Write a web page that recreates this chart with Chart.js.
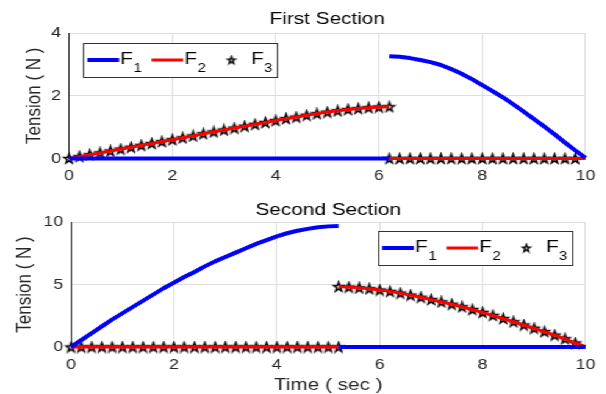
<!DOCTYPE html>
<html>
<head>
<meta charset="utf-8">
<script src="https://cdn.jsdelivr.net/npm/chart.js@4.4.1/dist/chart.umd.min.js"></script>
<style>
  html, body { margin: 0; padding: 0; background: #fff; overflow: hidden; }
  /* the original figure is stretched sideways, so the whole drawing gets the same stretch */
  #stretch { position: absolute; left: 0; top: 0; width: 497px; height: 394px; transform: scaleX(1.22); transform-origin: 0 0; }
  canvas { display: block; }
</style>
</head>
<body>
<div id="stretch">
  <canvas id="chartTop" width="497" height="197"></canvas>
  <canvas id="chartBottom" width="497" height="197"></canvas>
</div>
<script>
// ---------- DATA ----------
const seriesNames = ["F1", "F2", "F3"];
const xTicks = [0, 2, 4, 6, 8, 10];
const topYTicks = [0, 2, 4];
const bottomYTicks = [0, 5, 10];

// First Section: two time segments, split at t = 6.2
const topTimeA = [0, 0.2, 0.4, 0.6, 0.8, 1, 1.2, 1.4, 1.6, 1.8, 2, 2.2, 2.4, 2.6, 2.8, 3, 3.2, 3.4, 3.6, 3.8, 4, 4.2, 4.4, 4.6, 4.8, 5, 5.2, 5.4, 5.6, 5.8, 6, 6.2];
const topTimeB = [6.2, 6.4, 6.6, 6.8, 7, 7.2, 7.4, 7.6, 7.8, 8, 8.2, 8.4, 8.6, 8.8, 9, 9.2, 9.4, 9.6, 9.8, 10];
const topF1A = [0, 0, 0, 0, 0, 0, 0, 0, 0, 0, 0, 0, 0, 0, 0, 0, 0, 0, 0, 0, 0, 0, 0, 0, 0, 0, 0, 0, 0, 0, 0, 0];
const topF1B = [3.26, 3.24, 3.2, 3.14, 3.07, 2.98, 2.85, 2.7, 2.53, 2.34, 2.15, 1.95, 1.73, 1.5, 1.26, 1.02, 0.77, 0.51, 0.26, 0.02];
const topF2A = [0, 0.06, 0.12, 0.18, 0.24, 0.3, 0.36, 0.42, 0.48, 0.54, 0.6, 0.66, 0.72, 0.79, 0.85, 0.91, 0.97, 1.03, 1.09, 1.15, 1.21, 1.27, 1.32, 1.38, 1.43, 1.48, 1.52, 1.56, 1.59, 1.62, 1.64, 1.65];
const topF2B = [0, 0, 0, 0, 0, 0, 0, 0, 0, 0, 0, 0, 0, 0, 0, 0, 0, 0, 0, 0];
const topF3A = [0, 0.06, 0.12, 0.18, 0.24, 0.3, 0.36, 0.42, 0.48, 0.54, 0.6, 0.66, 0.72, 0.79, 0.85, 0.91, 0.97, 1.03, 1.09, 1.15, 1.21, 1.27, 1.32, 1.38, 1.43, 1.48, 1.52, 1.56, 1.59, 1.62, 1.64, 1.65];
const topF3B = [0, 0, 0, 0, 0, 0, 0, 0, 0, 0, 0, 0, 0, 0, 0, 0, 0, 0, 0];

// Second Section: split at t = 5.2
const bottomTimeA = [0, 0.2, 0.4, 0.6, 0.8, 1, 1.2, 1.4, 1.6, 1.8, 2, 2.2, 2.4, 2.6, 2.8, 3, 3.2, 3.4, 3.6, 3.8, 4, 4.2, 4.4, 4.6, 4.8, 5, 5.2];
const bottomTimeB = [5.2, 5.4, 5.6, 5.8, 6, 6.2, 6.4, 6.6, 6.8, 7, 7.2, 7.4, 7.6, 7.8, 8, 8.2, 8.4, 8.6, 8.8, 9, 9.2, 9.4, 9.6, 9.8, 10];
const bottomF1A = [0, 0.55, 1.1, 1.65, 2.2, 2.7, 3.2, 3.7, 4.2, 4.7, 5.15, 5.6, 6, 6.45, 6.85, 7.2, 7.55, 7.9, 8.25, 8.55, 8.85, 9.1, 9.3, 9.45, 9.58, 9.65, 9.68];
const bottomF1B = [0, 0, 0, 0, 0, 0, 0, 0, 0, 0, 0, 0, 0, 0, 0, 0, 0, 0, 0, 0, 0, 0, 0, 0, 0];
const bottomF2A = [0, 0, 0, 0, 0, 0, 0, 0, 0, 0, 0, 0, 0, 0, 0, 0, 0, 0, 0, 0, 0, 0, 0, 0, 0, 0, 0];
const bottomF2B = [4.83, 4.79, 4.73, 4.66, 4.56, 4.45, 4.31, 4.15, 3.98, 3.8, 3.61, 3.42, 3.22, 3, 2.77, 2.53, 2.28, 2.02, 1.76, 1.5, 1.23, 0.95, 0.66, 0.32, 0.03];
const bottomF3A = [0, 0, 0, 0, 0, 0, 0, 0, 0, 0, 0, 0, 0, 0, 0, 0, 0, 0, 0, 0, 0, 0, 0, 0, 0, 0, 0];
const bottomF3B = [4.83, 4.79, 4.73, 4.66, 4.56, 4.45, 4.31, 4.15, 3.98, 3.8, 3.61, 3.42, 3.22, 3, 2.77, 2.53, 2.28, 2.02, 1.76, 1.5, 1.23, 0.95, 0.66, 0.32];

// ---------- helpers ----------
const FONT = '"Liberation Sans", Arial, sans-serif';
const axisColor = "#262626";
const gridColor = "#dedede";

// join two segments with a null point so the line breaks at the jump
function segmentPoints(timesA, valsA, timesB, valsB) {
  const pts = valsA.map((v, i) => ({ x: timesA[i], y: v }));
  pts.push({ x: timesA[timesA.length - 1], y: null });
  valsB.forEach((v, i) => pts.push({ x: timesB[i], y: v }));
  return pts;
}

// MATLAB-like pentagram marker, outline only
function makeStar(R, lw) {
  const size = Math.ceil(R * 2 + 3);
  const c = document.createElement("canvas");
  c.width = size;
  c.height = size;
  const g = c.getContext("2d");
  g.translate(size / 2, size / 2 + R * 0.095);
  g.scale(0.85, 1);
  g.beginPath();
  for (let k = 0; k < 10; k++) {
    const r = k % 2 === 0 ? R : R * 0.4;
    const a = -Math.PI / 2 + (k * Math.PI) / 5;
    g.lineTo(r * Math.cos(a), r * Math.sin(a));
  }
  g.closePath();
  g.setTransform(1, 0, 0, 1, 0, 0);
  g.lineWidth = lw;
  g.strokeStyle = "#000";
  g.stroke();
  return c;
}
const starImg = makeStar(4.9, 1.5);
const legendStarImg = makeStar(3.8, 1.4);

// boxed legend with subscripts, drawn inside the plot area
const boxedLegend = {
  id: "boxedLegend",
  afterDraw(chart, args, opts) {
    const ctx = chart.ctx;
    const area = chart.chartArea;
    const sets = chart.data.datasets;
    const sample = 26, pad = 3.5, gap = 8;
    ctx.save();
    const parts = sets.map((ds) => {
      ctx.font = "17px " + FONT;
      const wMain = ctx.measureText(ds.label[0]).width;
      ctx.font = "12px " + FONT;
      const wSub = ctx.measureText(ds.label.slice(1)).width;
      const after = ds.showLine ? 1 : 3;
      return { ds, wMain, wSub, after, w: sample + after + wMain + 0.5 + wSub };
    });
    let width = pad * 2 + gap * (parts.length - 1);
    parts.forEach((p) => (width += p.w));
    const height = 34;
    const left = opts.side === "right" ? area.right - 11.5 - width : area.left + 11.5;
    const top = area.top + opts.offsetTop;

    ctx.fillStyle = "#fff";
    ctx.fillRect(left, top, width, height);
    ctx.strokeStyle = "#333";
    ctx.lineWidth = 1;
    ctx.strokeRect(Math.round(left) + 0.5, Math.round(top) + 0.5, Math.round(width), height);

    let x = left + pad;
    const midY = top + 17;
    const base = top + 21;
    parts.forEach((p) => {
      if (p.ds.showLine) {
        ctx.strokeStyle = p.ds.borderColor;
        ctx.lineWidth = p.ds.borderWidth;
        ctx.beginPath();
        ctx.moveTo(x, midY);
        ctx.lineTo(x + sample, midY);
        ctx.stroke();
      } else {
        ctx.drawImage(legendStarImg, x + sample / 2 - legendStarImg.width / 2, midY - legendStarImg.height / 2);
      }
      let tx = x + sample + p.after;
      ctx.fillStyle = "#000";
      ctx.textBaseline = "alphabetic";
      ctx.textAlign = "left";
      ctx.font = "17px " + FONT;
      ctx.fillText(p.ds.label[0], tx, base);
      tx += p.wMain + 0.5;
      ctx.font = "12px " + FONT;
      ctx.fillText(p.ds.label.slice(1), tx, base + 8.4);
      x += p.w + gap;
    });
    ctx.restore();
  },
};

function makePanel(canvasId, cfg) {
  const datasets = [
    {
      label: seriesNames[0],
      data: segmentPoints(cfg.timeA, cfg.f1A, cfg.timeB, cfg.f1B),
      showLine: true,
      borderColor: "#0000ff",
      borderWidth: 4,
      pointRadius: 0,
      borderJoinStyle: "round",
      clip: false,
    },
    {
      label: seriesNames[1],
      data: segmentPoints(cfg.timeA, cfg.f2A, cfg.timeB, cfg.f2B),
      showLine: true,
      borderColor: "#ff0000",
      borderWidth: 3,
      pointRadius: 0,
      borderJoinStyle: "round",
      clip: false,
    },
    {
      label: seriesNames[2],
      data: segmentPoints(cfg.timeA, cfg.f3A, cfg.timeB, cfg.f3B),
      showLine: false,
      pointStyle: starImg,
      pointRadius: 5,
      clip: false,
    },
  ];

  return new Chart(document.getElementById(canvasId), {
    type: "scatter",
    data: { datasets: datasets },
    options: {
      responsive: false,
      animation: false,
      events: [],
      layout: { padding: { left: 0, right: 14, top: 0, bottom: 0 } },
      plugins: {
        legend: { display: false },
        tooltip: { enabled: false },
        title: {
          display: true,
          fullSize: false, // centre over the axes, like MATLAB
          text: cfg.title,
          color: "#000",
          font: { family: FONT, size: 17, weight: "normal" },
          padding: cfg.titlePadding,
        },
        boxedLegend: { side: cfg.legendSide, offsetTop: cfg.legendTop },
      },
      scales: {
        x: {
          type: "linear",
          min: xTicks[0],
          max: xTicks[xTicks.length - 1],
          afterBuildTicks: (s) => { s.ticks = xTicks.map((v) => ({ value: v })); },
          afterFit: (s) => { s.height = cfg.xAxisHeight; },
          grid: { color: gridColor, lineWidth: 1, drawTicks: false },
          border: { display: true, color: axisColor, width: 1 },
          ticks: { color: axisColor, font: { family: FONT, size: 14.5 }, padding: 9, maxRotation: 0 },
          title: {
            display: !!cfg.xTitle,
            text: cfg.xTitle || "",
            color: axisColor,
            font: { family: FONT, size: 17, lineHeight: 1 },
            padding: { top: 0, bottom: 0.5 },
          },
        },
        y: {
          type: "linear",
          min: cfg.yTicks[0],
          max: cfg.yTicks[cfg.yTicks.length - 1],
          afterBuildTicks: (s) => { s.ticks = cfg.yTicks.map((v) => ({ value: v })); },
          afterFit: (s) => { s.width = cfg.plotLeft; },
          grid: { color: gridColor, lineWidth: 1, drawTicks: false },
          border: { display: true, color: axisColor, width: 1 },
          ticks: { color: axisColor, font: { family: FONT, size: 14.5 }, padding: 6.5 },
          title: {
            display: true,
            text: "Tension ( N )",
            color: axisColor,
            font: { family: FONT, size: 17 },
            padding: { top: cfg.yTitlePad, bottom: 0 },
          },
        },
      },
    },
    plugins: [boxedLegend],
  });
}

makePanel("chartTop", {
  title: "First Section",
  timeA: topTimeA, timeB: topTimeB,
  f1A: topF1A, f1B: topF1B,
  f2A: topF2A, f2B: topF2B,
  f3A: topF3A, f3B: topF3B,
  yTicks: topYTicks,
  plotLeft: 56.6,
  xAxisHeight: 38.5,
  titlePadding: { top: 9.3, bottom: 3.3 },
  yTitlePad: 18.5,
  legendSide: "left",
  legendTop: 10,
});

makePanel("chartBottom", {
  title: "Second Section",
  timeA: bottomTimeA, timeB: bottomTimeB,
  f1A: bottomF1A, f1B: bottomF1B,
  f2A: bottomF2A, f2B: bottomF2B,
  f3A: bottomF3A, f3B: bottomF3B,
  yTicks: bottomYTicks,
  plotLeft: 58.2,
  xAxisHeight: 47,
  titlePadding: { top: 2.8, bottom: 1.8 },
  yTitlePad: 10.3,
  xTitle: "Time ( sec )",
  legendSide: "right",
  legendTop: 9,
});
</script>
</body>
</html>
